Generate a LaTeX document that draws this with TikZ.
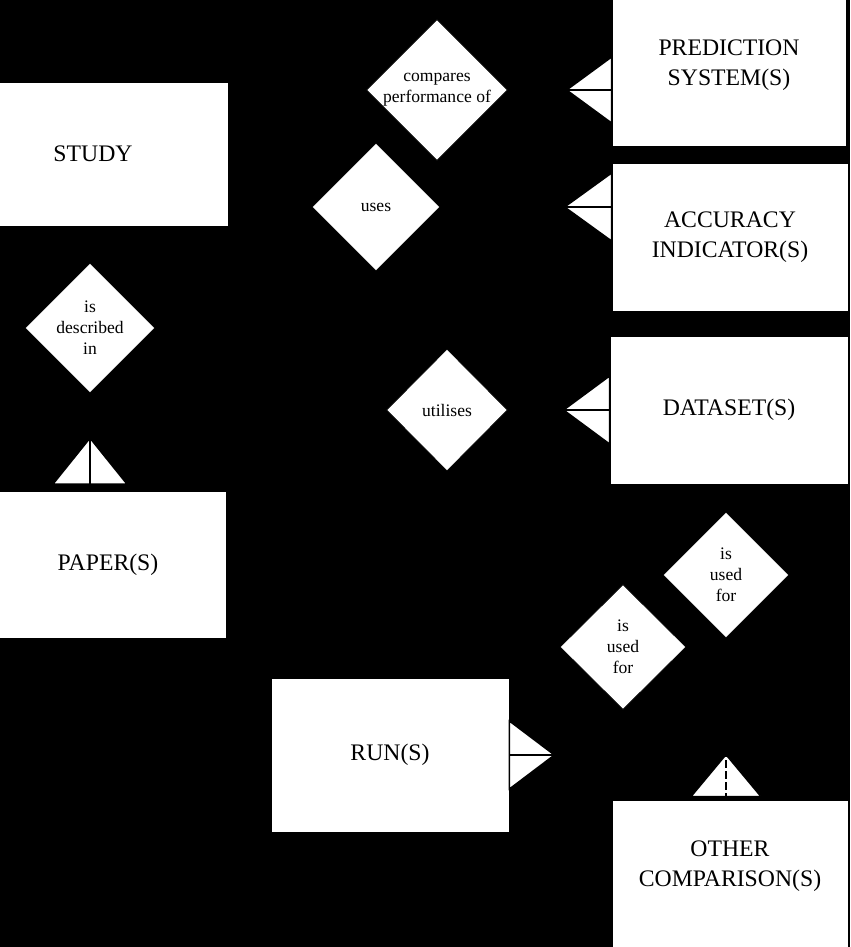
\documentclass[tikz,border=0pt]{standalone}
\usepackage{fontspec}
\setmainfont{Liberation Serif}
\usetikzlibrary{shapes.geometric}

\tikzset{
  entity/.style={draw=black, fill=white, align=center, inner sep=0pt,
    minimum width=4.74cm, minimum height=2.96cm,
    font=\fontsize{13.5}{17}\selectfont},
  entitytext/.style={align=center, inner sep=0pt, font=\fontsize{13.5}{17}\selectfont},
  relation/.style={diamond, draw=black, fill=white, align=center, inner sep=0pt,
    minimum width=2.56cm, minimum height=2.56cm,
    font=\fontsize{10}{12}\selectfont},
  link/.style={draw=black, line width=1pt},
  crowfoot/.style={draw=black, fill=white, line width=0.8pt}
}

\begin{document}
\begin{tikzpicture}[x=0.02cm, y=-0.02cm]
    % Background, fixes the page size
    \fill[black] (0,0) rectangle (850,947);
    \useasboundingbox (0,0) rectangle (850,947);

    % Entities
    \node[entity, minimum width=5.4cm, minimum height=2.88cm] (study) at (93,154) {STUDY};
    \node[entity, minimum width=4.68cm, minimum height=3.24cm] (prediction) at (729,65) {PREDICTION\\SYSTEM(S)};
    \node[entity, minimum width=4.72cm] (accuracy) at (730,237) {ACCURACY\\INDICATOR(S)};
    \node[entity, minimum width=4.76cm] (dataset) at (729,410) {DATASET(S)};
    \node[entity, minimum width=4.72cm, minimum height=2.94cm] (paper) at (108,565) {PAPER(S)};
    \node[entity, minimum width=4.76cm, minimum height=3.08cm] (run) at (390,755) {RUN(S)};
    \node[entity, minimum width=4.72cm] (other) at (730,874) {};
    \node[entitytext] (othertext) at (730,866) {OTHER\\COMPARISON(S)};

    % Relationships
    \node[relation, minimum width=2.6cm, minimum height=2.6cm] (compares) at (437,90) {compares\\performance of};
    \node[relation] (uses) at (376,207) {uses};
    \node[relation, minimum width=2.6cm, minimum height=2.6cm] (described) at (90,328) {is\\described\\in};
    \node[relation, minimum width=2.42cm, minimum height=2.44cm] (utilises) at (447,410) {utilises};
    \node[relation, minimum width=2.52cm, minimum height=2.52cm] (usedother) at (726,575) {is\\used\\for};
    \node[relation, minimum width=2.52cm, minimum height=2.5cm] (usedrun) at (623,647) {is\\used\\for};

    % Crow's feet (many side)
    \filldraw[crowfoot] (prediction.west |- compares) ++(0,-33) -- ++(-45,33) -- ++(45,33) -- cycle;
    \filldraw[crowfoot] (accuracy.west |- uses) ++(0,-34) -- ++(-47,34) -- ++(47,34) -- cycle;
    \filldraw[crowfoot] (dataset.west |- utilises) ++(0,-34) -- ++(-46,34) -- ++(46,34) -- cycle;
    \filldraw[crowfoot] (paper.north -| described) ++(-37,-7) -- ++(37,-46) -- ++(37,46) -- cycle;
    \filldraw[crowfoot] (run.east) ++(0,-34) -- ++(45,34) -- ++(-45,34) -- cycle;
    \filldraw[crowfoot] (other.north -| usedother) ++(-35,-3) -- ++(35,-42) -- ++(35,42) -- cycle;

    % Connectors
    \draw[link] (study.east |- compares) -- (compares.west);
    \draw[link] (compares.east) -- (prediction.west |- compares);
    \draw[link] (study.east |- uses) -- (uses.west);
    \draw[link] (uses.east) -- (accuracy.west |- uses);
    \coordinate (studyleg) at (207,226);
    \draw[link] (studyleg) |- (utilises.west);
    \draw[link] (utilises.east) -- (dataset.west |- utilises);
    \draw[link] (described.north |- study.south) -- (described.north);
    \draw[link] (described.south) -- (paper.north -| described);
    \draw[link] (dataset.south -| usedrun) -- (usedrun.north);
    \draw[link] (usedrun.south) |- (run.east);
    \draw[link] (dataset.south -| usedother) -- (usedother.north);
    \draw[link, dash pattern=on 4.5pt off 1.8pt] (usedother.south) -- (other.north -| usedother);
\end{tikzpicture}
\end{document}
